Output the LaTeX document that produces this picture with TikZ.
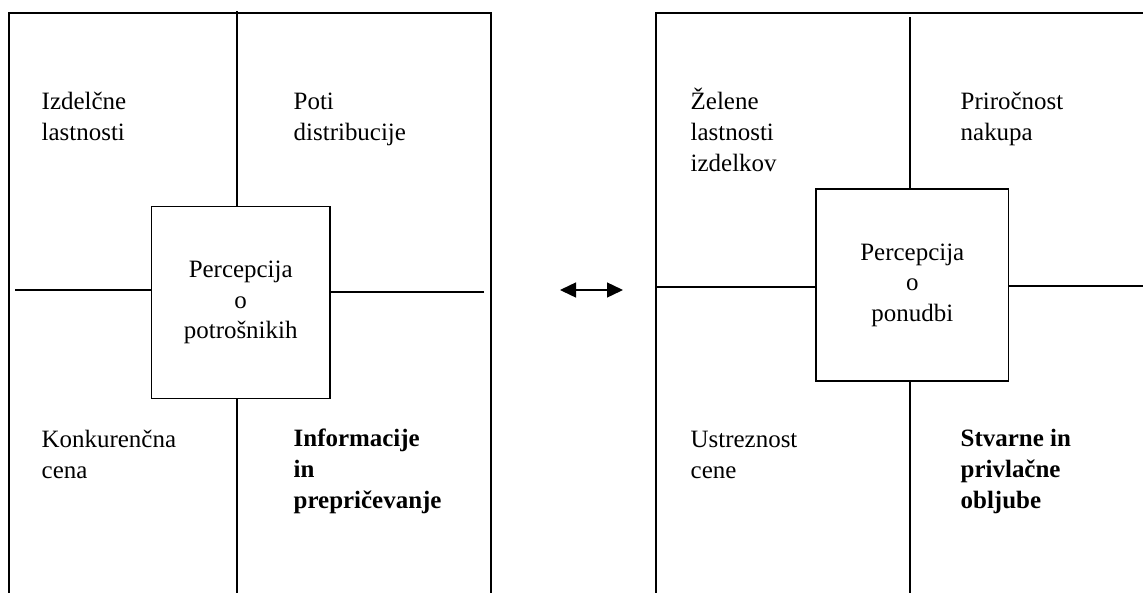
\documentclass[tikz,border=0pt]{standalone}
\usepackage{fontspec}
\setmainfont{Liberation Serif}
\usetikzlibrary{arrows.meta}
\begin{document}
\begin{tikzpicture}[x=0.02cm, y=-0.02cm, line width=0.8pt,
    txt/.style={anchor=base west, align=left, inner sep=0pt, font=\fontsize{14.2}{17.4}\selectfont},
    sq/.style={draw, align=center, inner sep=0pt, font=\fontsize{14.2}{17.4}\selectfont}]
  \useasboundingbox (0,0) rectangle (1143,592);

  % levi okvir
  \begin{scope}
    \draw (9,600) -- (9,13) -- (491,13) -- (491,600);
    \node[sq, minimum width=3.58cm, minimum height=3.84cm] (PL) at (240.7,302.5) {Percepcija\\o\\potrošnikih};
    \coordinate (TL) at (237,11);
    \coordinate (BL) at (237,600);
    \coordinate (WL) at (15,290);
    \coordinate (EL) at (484,292);
    \draw (TL) -- (TL |- PL.north);
    \draw (BL |- PL.south) -- (BL);
    \draw (WL) -- (WL -| PL.west);
    \draw (EL) -- (EL -| PL.east);
    \node[txt] (L1) at (41,140) {Izdelčne\\lastnosti};
    \node[txt] (L2) at (293,140) {Poti\\distribucije};
    \node[txt] (L3) at (41,478) {Konkurenčna\\cena};
    \node[txt, font=\fontsize{14.2}{17.4}\selectfont\bfseries] (L4) at (293,508) {Informacije\\in\\prepričevanje};
  \end{scope}

  % puscica
  \coordinate (A1) at (560,290);
  \coordinate (A2) at (623,290);
  \draw[{Triangle[length=0.32cm,width=0.3cm]}-{Triangle[length=0.32cm,width=0.3cm]}] (A1) -- (A2);

  % desni okvir
  \begin{scope}
    \draw (656,600) -- (656,13) -- (1150,13);
    \node[sq, minimum width=3.86cm, minimum height=3.84cm] (PR) at (912.3,285) {Percepcija\\o\\ponudbi};
    \coordinate (TR) at (910,17);
    \coordinate (BR) at (910,600);
    \coordinate (WR) at (656,287);
    \coordinate (ER) at (1150,286);
    \draw (TR) -- (TR |- PR.north);
    \draw (BR |- PR.south) -- (BR);
    \draw (WR) -- (WR -| PR.west);
    \draw (ER) -- (ER -| PR.east);
    \node[txt] (R1) at (690,171) {Želene\\lastnosti\\izdelkov};
    \node[txt] (R2) at (960,140) {Priročnost\\nakupa};
    \node[txt] (R3) at (690,478) {Ustreznost\\cene};
    \node[txt, font=\fontsize{14.2}{17.4}\selectfont\bfseries] (R4) at (960,508) {Stvarne in\\privlačne\\obljube};
  \end{scope}
\end{tikzpicture}
\end{document}
